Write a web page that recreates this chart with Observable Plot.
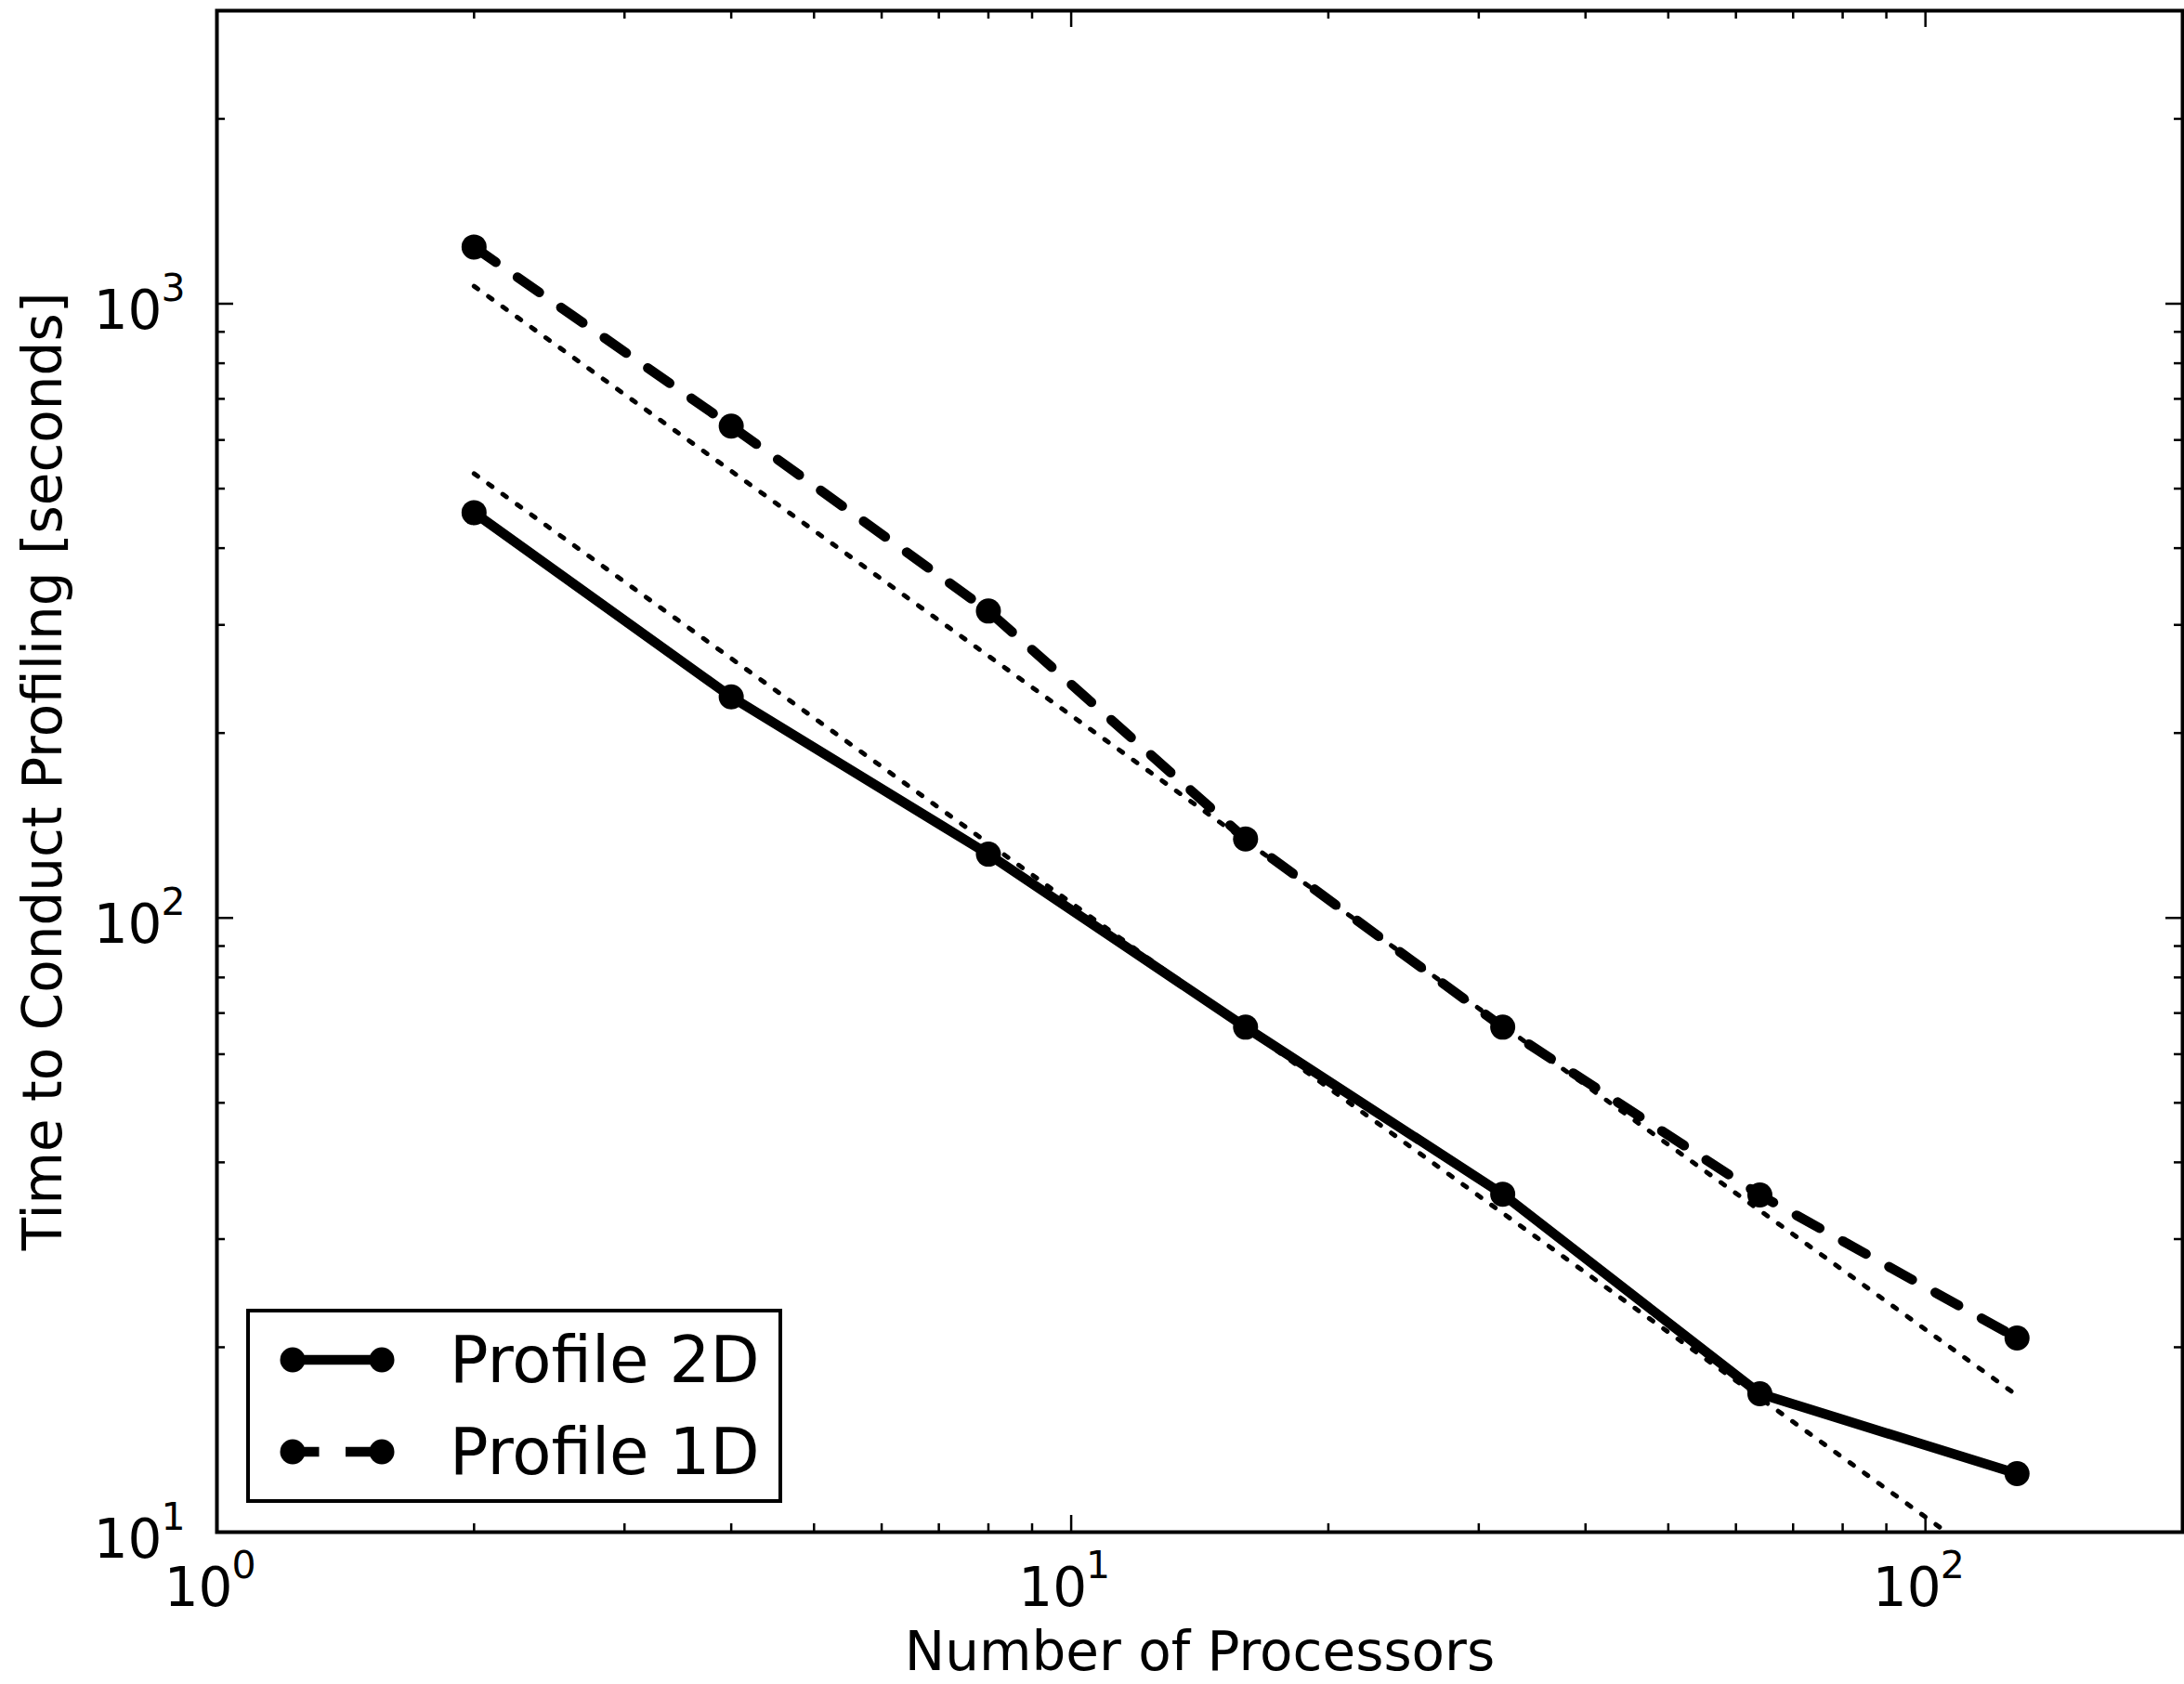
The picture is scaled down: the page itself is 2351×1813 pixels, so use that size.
<!DOCTYPE html>
<html>
<head>
<meta charset="utf-8">
<script src="https://cdn.jsdelivr.net/npm/d3@7"></script>
<script src="https://cdn.jsdelivr.net/npm/@observablehq/plot@0.6"></script>
<style>
  html, body { margin: 0; padding: 0; background: #fff; }
  #wrap { position: relative; width: 2351px; height: 1813px; font-family: "DejaVu Sans", sans-serif; }
  #legend { position: absolute; left: 265px; top: 1409px; width: 577px; height: 209px; box-sizing: border-box; border: 4px solid #000; background: #fff; }
  #legend svg { position: absolute; left: -4px; top: -4px; overflow: visible; }
</style>
</head>
<body>
<div id="wrap"></div>
<script>
// ---- data ----
const nProc = [2, 4, 8, 16, 32, 64, 128];
const time2D = [457, 229, 127, 66.4, 35.5, 16.8, 12.45];
const time1D = [1237, 632, 316, 134.5, 66.4, 35.4, 20.7];
// ideal-scaling reference (dotted) lines, endpoints
const idealProc = [2, 128];
const ideal2D = [529, 8.27];
const ideal1D = [1068, 16.7];
// ticks
const xMajor = [1, 10, 100];
const xMinor = [2, 3, 4, 5, 6, 7, 8, 9, 20, 30, 40, 50, 60, 70, 80, 90];
const yMajor = [10, 100, 1000];
const yMinor = [20, 30, 40, 50, 60, 70, 80, 90, 200, 300, 400, 500, 600, 700, 800, 900, 2000];
const seriesNames = ["Profile 2D", "Profile 1D"];
const xLabel = "Number of Processors";
const yLabel = "Time to Conduct Profiling [seconds]";

const W = 2351, H = 1813;
const mL = 233, mR = 2, mT = 11, mB = 164;
const pw = W - mL - mR, ph = H - mT - mB;
const FONT = "DejaVu Sans";

const d2 = nProc.map((p, i) => ({p, t: time2D[i]}));
const d1 = nProc.map((p, i) => ({p, t: time1D[i]}));
const i2 = idealProc.map((p, i) => ({p, t: ideal2D[i]}));
const i1 = idealProc.map((p, i) => ({p, t: ideal1D[i]}));

const tickW = 2.5, majL = 18, minL = 9;
const LW = 10.5, DOT = "5,14", DASH = "28.5,28.5", R = 13.5;
const exp = d => String(Math.round(Math.log10(d)));

const plot = Plot.plot({
  width: W, height: H,
  marginLeft: mL, marginRight: mR, marginTop: mT, marginBottom: mB,
  style: {background: "#fff", fontFamily: FONT},
  x: {type: "log", domain: [1, 200], axis: null},
  y: {type: "log", domain: [10, 3000], axis: null},
  marks: [
    // ideal dotted lines
    Plot.line(i2, {x: "p", y: "t", stroke: "#000", strokeWidth: 5, strokeDasharray: DOT, clip: true}),
    Plot.line(i1, {x: "p", y: "t", stroke: "#000", strokeWidth: 5, strokeDasharray: DOT, clip: true}),
    // data lines
    Plot.line(d2, {x: "p", y: "t", stroke: "#000", strokeWidth: LW, strokeLinejoin: "round"}),
    Plot.line(d1, {x: "p", y: "t", stroke: "#000", strokeWidth: LW, strokeDasharray: DASH}),
    Plot.dot(d2, {x: "p", y: "t", r: R, fill: "#000", stroke: null}),
    Plot.dot(d1, {x: "p", y: "t", r: R, fill: "#000", stroke: null}),
    // ticks (inward, all four sides)
    Plot.ruleX(xMajor, {x: d => d, insetTop: ph - majL, stroke: "#000", strokeWidth: tickW}),
    Plot.ruleX(xMinor, {x: d => d, insetTop: ph - minL, stroke: "#000", strokeWidth: tickW}),
    Plot.ruleX(xMajor, {x: d => d, insetBottom: ph - majL, stroke: "#000", strokeWidth: tickW}),
    Plot.ruleX(xMinor, {x: d => d, insetBottom: ph - minL, stroke: "#000", strokeWidth: tickW}),
    Plot.ruleY(yMajor, {y: d => d, insetRight: pw - majL, stroke: "#000", strokeWidth: tickW}),
    Plot.ruleY(yMinor, {y: d => d, insetRight: pw - minL, stroke: "#000", strokeWidth: tickW}),
    Plot.ruleY(yMajor, {y: d => d, insetLeft: pw - majL, stroke: "#000", strokeWidth: tickW}),
    Plot.ruleY(yMinor, {y: d => d, insetLeft: pw - minL, stroke: "#000", strokeWidth: tickW}),
    Plot.frame({stroke: "#000", strokeWidth: 4}),
    // x tick labels 10^n
    Plot.text(xMajor, {x: d => d, frameAnchor: "bottom", text: () => "10", textAnchor: "end", lineAnchor: "bottom", dx: 17, dy: 79, fontSize: 58, fill: "#000", fontFamily: FONT}),
    Plot.text(xMajor, {x: d => d, frameAnchor: "bottom", text: exp, textAnchor: "start", lineAnchor: "bottom", dx: 16, dy: 49, fontSize: 41, fill: "#000", fontFamily: FONT}),
    // y tick labels 10^n
    Plot.text(yMajor, {y: d => d, frameAnchor: "left", text: () => "10", textAnchor: "end", lineAnchor: "bottom", dx: -59, dy: 27, fontSize: 58, fill: "#000", fontFamily: FONT}),
    Plot.text(yMajor, {y: d => d, frameAnchor: "left", text: exp, textAnchor: "end", lineAnchor: "bottom", dx: -34, dy: -3, fontSize: 41, fill: "#000", fontFamily: FONT}),
    // axis labels
    Plot.text([xLabel], {frameAnchor: "bottom", text: d => d, textAnchor: "middle", lineAnchor: "bottom", dy: 148, fontSize: 58, fill: "#000", fontFamily: FONT}),
    Plot.text([yLabel], {frameAnchor: "left", text: d => d, textAnchor: "middle", lineAnchor: "bottom", rotate: -90, dx: -168, fontSize: 58, fill: "#000", fontFamily: FONT})
  ]
});

const wrap = document.getElementById("wrap");
wrap.appendChild(plot);

// legend (inside axes, lower left)
const leg = document.createElement("div");
leg.id = "legend";
wrap.appendChild(leg);
const ls = d3.select(leg).append("svg").attr("width", 577).attr("height", 209);
const rows = [
  {name: seriesNames[0], dash: null, cy: 55},
  {name: seriesNames[1], dash: DASH, cy: 154}
];
rows.forEach(r => {
  ls.append("line").attr("x1", 50).attr("x2", 146).attr("y1", r.cy).attr("y2", r.cy)
    .attr("stroke", "#000").attr("stroke-width", LW).attr("stroke-dasharray", r.dash);
  ls.append("circle").attr("cx", 50).attr("cy", r.cy).attr("r", R).attr("fill", "#000");
  ls.append("circle").attr("cx", 146).attr("cy", r.cy).attr("r", R).attr("fill", "#000");
  ls.append("text").attr("x", 219).attr("y", r.cy + 24).attr("font-family", FONT)
    .attr("font-size", 69).attr("fill", "#000").text(r.name);
});
</script>
</body>
</html>
